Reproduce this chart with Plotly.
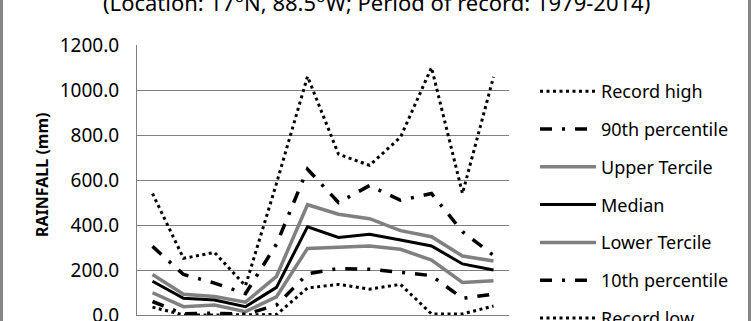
import plotly.graph_objects as go

months = ["Jan", "Feb", "Mar", "Apr", "May", "Jun", "Jul", "Aug", "Sep", "Oct", "Nov", "Dec"]
record_high = [540, 252, 278, 130, 585, 1060, 715, 665, 790, 1100, 540, 1058]
p90 = [305, 180, 142, 95, 315, 648, 500, 575, 510, 540, 370, 265]
upper_tercile = [180, 92, 82, 57, 172, 490, 448, 428, 375, 348, 262, 240]
median = [150, 74, 67, 37, 123, 392, 345, 359, 333, 307, 227, 200]
lower_tercile = [99, 37, 44, 15, 81, 296, 301, 307, 292, 244, 145, 152]
p10 = [60, 5, 8, 3, 44, 183, 207, 203, 190, 175, 74, 93]
record_low = [35, 0, 0, 0, 2, 120, 136, 115, 136, 5, 5, 40]

y_ticks = [0, 200, 400, 600, 800, 1000, 1200]
y_ticklabels = ["0.0", "200.0", "400.0", "600.0", "800.0", "1000.0", "1200.0"]

FONT = "Noto Sans"
GRAY = "#808080"
DOT = "3px,3.5px"
DASHDOT = "12px,10px,3px,10px"

series = [
    ("Record high", record_high, "black", 3, DOT),
    ("90th percentile", p90, "black", 3.5, DASHDOT),
    ("Upper Tercile", upper_tercile, GRAY, 3.5, "solid"),
    ("Median", median, "black", 3, "solid"),
    ("Lower Tercile", lower_tercile, GRAY, 3.5, "solid"),
    ("10th percentile", p10, "black", 3.5, DASHDOT),
    ("Record low", record_low, "black", 3, DOT),
]

fig = go.Figure()
for i, (name, vals, color, w, dash) in enumerate(series):
    fig.add_trace(go.Scatter(
        x=months, y=vals, name=name, mode="lines",
        line=dict(color=color, width=w, dash=dash),
        legendgroup=f"g{i}",
    ))

L, R, T, B = 137, 243, 45, 6
W, H = 752, 321
pw, ph = W - L - R, H - T - B

def px_x(p):
    return (p - L) / pw

def px_y(p):
    return (H - B - p) / ph

fig.update_layout(
    width=W, height=H,
    margin=dict(l=L, r=R, t=T, b=B, pad=0, autoexpand=False),
    paper_bgcolor="white", plot_bgcolor="white",
    font=dict(family=FONT, color="black", size=18),
    showlegend=True,
    legend=dict(
        x=px_x(535), y=px_y(73), xanchor="left", yanchor="top",
        font=dict(family=FONT, size=18, color="black"),
        traceorder="grouped", tracegroupgap=11.4, itemwidth=56,
        bgcolor="rgba(0,0,0,0)", maxheight=600,
    ),
    xaxis=dict(
        type="category", range=[-0.5, 11.5], showticklabels=False, ticks="",
        showgrid=False, showline=True, linecolor=GRAY, linewidth=1,
        zeroline=False, automargin=False,
    ),
    yaxis=dict(
        range=[0, 1200], tickvals=y_ticks, ticktext=y_ticklabels,
        showgrid=True, gridcolor=GRAY, gridwidth=1,
        showline=True, linecolor=GRAY, linewidth=1,
        zeroline=False, ticks="", ticklabelstandoff=13,
        ticklabeloverflow="allow",
        tickfont=dict(family=FONT, size=19, color="black"),
        automargin=False,
    ),
    annotations=[
        dict(text="(Location: 17°N, 88.5°W; Period of record: 1979-2014)",
             xref="paper", yref="paper", x=px_x(376), y=px_y(2.5),
             xanchor="center", yanchor="middle", showarrow=False,
             font=dict(family=FONT, size=22, color="black")),
        dict(text="<b>RAINFALL (mm)</b>",
             xref="paper", yref="paper", x=px_x(42), y=px_y(175),
             xanchor="center", yanchor="middle", showarrow=False, textangle=-90,
             font=dict(family=FONT, size=16, color="black")),
    ],
    shapes=[
        dict(type="line", xref="paper", yref="paper", x0=px_x(1.5), x1=px_x(1.5),
             y0=px_y(-20), y1=px_y(H + 20), line=dict(color="#868686", width=3)),
        dict(type="line", xref="paper", yref="paper", x0=px_x(749.5), x1=px_x(749.5),
             y0=px_y(-20), y1=px_y(H + 20), line=dict(color="#868686", width=3)),
    ],
)

fig.write_html("out.html")
